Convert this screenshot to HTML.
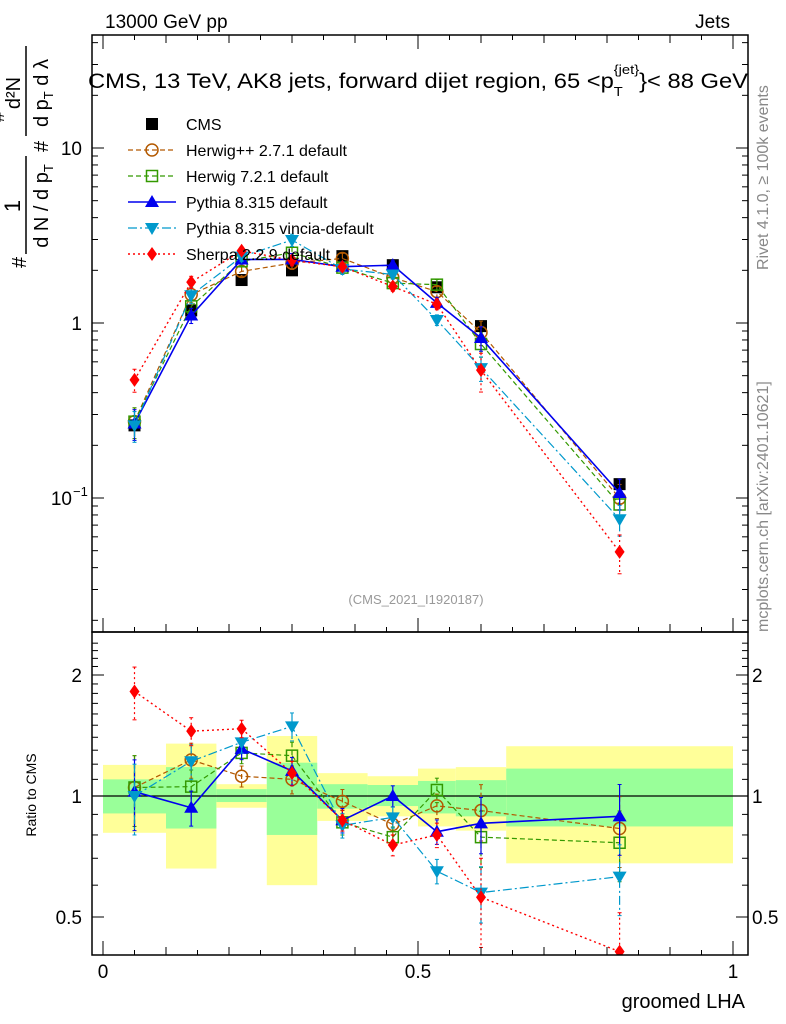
<!DOCTYPE html>
<html><head><meta charset="utf-8"><style>
html,body{margin:0;padding:0;background:#fff}
svg{display:block;font-family:"Liberation Sans",sans-serif}
</style></head><body>
<svg id="c" width="786" height="1024" viewBox="0 0 786 1024">
<defs><clipPath id="cr"><rect x="92" y="632" width="656" height="323"/></clipPath><clipPath id="cm"><rect x="92" y="35" width="656" height="597"/></clipPath></defs>
<g id="bands"></g>
<g id="marks"></g>
<g id="axes"></g>
<text x="105" y="28" font-size="19">13000 GeV pp</text>
<text x="730" y="28" font-size="19" text-anchor="end">Jets</text>
<text x="88" y="88" font-size="21" textLength="660" lengthAdjust="spacingAndGlyphs">CMS, 13 TeV, AK8 jets, forward dijet region, 65 &lt;p<tspan font-size="13" dy="8">T</tspan><tspan font-size="13" dy="-22" dx="-8">{jet}</tspan><tspan dy="14">}&lt; 88 GeV</tspan></text>
<text x="416" y="604" font-size="13" fill="#999" text-anchor="middle">(CMS_2021_I1920187)</text>
<text transform="translate(768,270) rotate(-90)" font-size="16" fill="#888">Rivet 4.1.0, ≥ 100k events</text>
<text transform="translate(768,632) rotate(-90)" font-size="16" fill="#888">mcplots.cern.ch [arXiv:2401.10621]</text>
<g transform="translate(26,268) rotate(-90)">
<text x="0" y="0" font-size="20">#</text>
<text x="62" y="-6" font-size="22" text-anchor="middle">1</text>
<line x1="14" y1="0" x2="112" y2="0" stroke="#000" stroke-width="1.5"/>
<text x="62" y="22" font-size="20" text-anchor="middle">d N / d p<tspan font-size="13" dy="5">T</tspan></text>
<text x="116" y="22" font-size="20">#</text>
<text x="175" y="-6" font-size="20" text-anchor="middle">d²N</text>
<line x1="132" y1="0" x2="222" y2="0" stroke="#000" stroke-width="1.5"/>
<text x="175" y="22" font-size="20" text-anchor="middle">d p<tspan font-size="13" dy="5">T</tspan><tspan dy="-5">  d λ</tspan></text>
<text x="146" y="-22" font-size="18">#</text>
</g>
<text transform="translate(36,795) rotate(-90)" font-size="14" text-anchor="middle">Ratio to CMS</text>
<text x="745" y="1008" font-size="20" text-anchor="end">groomed LHA</text>
<g id="legend"></g>
</svg>
<script>
const binEdges=[0,0.1,0.18,0.26,0.34,0.42,0.5,0.56,0.64,1];
const binCenters=[0.05,0.14,0.22,0.30,0.38,0.46,0.53,0.60,0.82];
const cmsValues=[0.26,1.18,1.76,2.0,2.41,2.14,1.6,0.96,0.12];
const cmsRelErr=[0.06,0.05,0.03,0.04,0.03,0.03,0.04,0.04,0.05];
const bandYellowHi=[1.195,1.35,1.07,1.41,1.14,1.12,1.17,1.18,1.33];
const bandYellowLo=[0.81,0.66,0.935,0.60,0.867,0.89,0.84,0.82,0.68];
const bandGreenHi=[1.10,1.18,1.04,1.21,1.07,1.065,1.09,1.095,1.17];
const bandGreenLo=[0.905,0.83,0.966,0.80,0.93,0.944,0.905,0.89,0.84];
const ratioHerwigPP=[1.05,1.23,1.12,1.10,0.97,0.85,0.945,0.92,0.83];
const ratioHerwig7=[1.05,1.055,1.28,1.26,0.86,0.79,1.035,0.79,0.765];
const ratioPythia=[1.025,0.935,1.31,1.155,0.87,1.0,0.815,0.855,0.89];
const ratioVincia=[1.0,1.22,1.36,1.49,0.845,0.885,0.65,0.575,0.63];
const ratioSherpa=[1.82,1.45,1.47,1.14,0.87,0.755,0.80,0.56,0.41];
const mcRelErr=[0.2,0.1,0.06,0.08,0.07,0.06,0.07,0.16,0.2];
const sherpaRelErr=[0.15,0.08,0.05,0.07,0.06,0.06,0.07,0.25,0.25];

const NS='http://www.w3.org/2000/svg';
const L=92,R=748,T=35,MB=632,B=955;
const X=v=>103+v*630;
const Y=v=>323-175*Math.log10(v);
const YR=v=>796-121*Math.log2(v);
function mk(tag,at,parent){const e=document.createElementNS(NS,tag);for(const k in at)e.setAttribute(k,at[k]);parent.appendChild(e);return e;}
const bands=document.getElementById('bands'),marks=document.getElementById('marks'),axes=document.getElementById('axes'),leg=document.getElementById('legend');

for(let i=0;i<cmsValues.length;i++){
  const x1=Math.max(X(binEdges[i]),L+1),x2=Math.min(X(binEdges[i+1]),R-1);
  let r=mk('rect',{x:x1,y:YR(bandYellowHi[i]),width:x2-x1,height:YR(bandYellowLo[i])-YR(bandYellowHi[i]),fill:'#ffff99'},bands);
  
  
  r=mk('rect',{x:x1,y:YR(bandGreenHi[i]),width:x2-x1,height:YR(bandGreenLo[i])-YR(bandGreenHi[i]),fill:'#99ff99'},bands);
  
  
}
let one=mk('line',{x1:L,x2:R,y1:YR(1),y2:YR(1),stroke:'#000','stroke-width':1.2},bands);



function marker(type,x,y,col,g){
  let e;
  if(type==='sq') e=mk('rect',{x:x-6,y:y-6,width:12,height:12,fill:'#000'},g);
  else if(type==='circ') e=mk('circle',{cx:x,cy:y,r:6,fill:'none',stroke:col,'stroke-width':1.5},g);
  else if(type==='osq') e=mk('rect',{x:x-5.5,y:y-5.5,width:11,height:11,fill:'none',stroke:col,'stroke-width':1.5},g);
  else if(type==='tri') e=mk('polygon',{points:`${x},${y-7} ${x-7},${y+5} ${x+7},${y+5}`,fill:col},g);
  else if(type==='itri') e=mk('polygon',{points:`${x},${y+7} ${x-7},${y-5} ${x+7},${y-5}`,fill:col},g);
  else if(type==='dia') e=mk('polygon',{points:`${x},${y-7} ${x-5},${y} ${x},${y+7} ${x+5},${y}`,fill:col},g);
  return e;
}
const series=[
 {name:'Herwig++ 2.7.1 default',r:ratioHerwigPP,col:'#b35900',dash:'5,3',m:'circ',w:1.2,err:mcRelErr},
 {name:'Herwig 7.2.1 default',r:ratioHerwig7,col:'#339900',dash:'5,3',m:'osq',w:1.2,err:mcRelErr},
 {name:'Pythia 8.315 default',r:ratioPythia,col:'#0000ee',dash:'',m:'tri',w:1.6,err:mcRelErr},
 {name:'Pythia 8.315 vincia-default',r:ratioVincia,col:'#0099cc',dash:'9,3,2,3',m:'itri',w:1.2,err:mcRelErr},
 {name:'Sherpa 2.2.9 default',r:ratioSherpa,col:'#ff0000',dash:'2,3',m:'dia',w:1.4,err:sherpaRelErr}
];
const gc=mk('g',{'clip-path':'url(#cm)'},marks);


cmsValues.forEach((v,i)=>{
  const x=X(binCenters[i]);
  mk('line',{x1:x,x2:x,y1:Y(v*(1+cmsRelErr[i])),y2:Y(v*(1-cmsRelErr[i])),stroke:'#000','stroke-width':1.2},gc);
  const p=marker('sq',x,Y(v),'#000',gc);
  
  
});
series.forEach((s,si)=>{
  const g=mk('g',{},marks);
  
  
  const mainPts=s.r.map((r,i)=>[X(binCenters[i]),Y(r*cmsValues[i])]);
  const ratPts=s.r.map((r,i)=>[X(binCenters[i]),YR(r)]);
  [mainPts,ratPts].forEach((pts,k)=>{
    const sub=mk('g',{'clip-path':k?'url(#cr)':'url(#cm)'},g);
    const pl=mk('polyline',{points:pts.map(p=>p.join(',')).join(' '),fill:'none',stroke:s.col,'stroke-width':s.w,'stroke-dasharray':s.dash},sub);
    
    
    pts.forEach((p,i)=>{
      const base=k?s.r[i]:s.r[i]*cmsValues[i];
      const f=k?YR:Y;
      const y1=f(base*(1+s.err[i])),y2=f(base*(1-s.err[i]));
      mk('line',{x1:p[0],x2:p[0],y1:y1,y2:y2,stroke:s.col,'stroke-width':1.2,'stroke-dasharray':s.dash},sub);
      mk('line',{x1:p[0]-2,x2:p[0]+2,y1:y1,y2:y1,stroke:s.col},sub);
      mk('line',{x1:p[0]-2,x2:p[0]+2,y1:y2,y2:y2,stroke:s.col},sub);
      const mm=marker(s.m,p[0],p[1],s.col,sub);
      
      
    });
  });
});
const legY=[124,150,176,202,228,254];
marker('sq',152,legY[0],'#000',leg);
let t0=mk('text',{x:186,y:legY[0]+6,'font-size':16},leg);t0.textContent='CMS';
series.forEach((s,i)=>{
  const y=legY[i+1];
  mk('line',{x1:128,x2:176,y1:y,y2:y,stroke:s.col,'stroke-width':s.w,'stroke-dasharray':s.dash},leg);
  marker(s.m,152,y,s.col,leg);
  const t=mk('text',{x:186,y:y+6,'font-size':16},leg);
  
  
  t.textContent=s.name;
});
mk('rect',{x:L,y:T,width:R-L,height:MB-T,fill:'none',stroke:'#000','stroke-width':1.5},axes);
mk('rect',{x:L,y:MB,width:R-L,height:B-MB,fill:'none',stroke:'#000','stroke-width':1.5},axes);
for(let d=-2;d<=1;d++)for(let m=1;m<=9;m++){
  const v=m*Math.pow(10,d),y=Y(v);if(y<T||y>MB)continue;
  const len=m===1?12:6;
  mk('line',{x1:L,x2:L+len,y1:y,y2:y,stroke:'#000'},axes);
  mk('line',{x1:R,x2:R-len,y1:y,y2:y,stroke:'#000'},axes);
}
const tl=(x,y,s,anc)=>{const t=mk('text',{x:x,y:y,'font-size':19,'text-anchor':anc},axes);t.textContent=s;return t;};
tl(82,Y(10)+7,'10','end');tl(82,Y(1)+7,'1','end');
tl(72,Y(0.1)+7,'10','end');
const sup=mk('text',{x:73,y:Y(0.1)-2,'font-size':13},axes);sup.textContent='−1';
for(let v=0.4;v<=2.5;v+=0.1){
  const y=YR(v);if(y<MB||y>B)continue;
  const major=[0.5,1,2].some(q=>Math.abs(q-v)<1e-6);
  const len=major?12:6;
  mk('line',{x1:L,x2:L+len,y1:y,y2:y,stroke:'#000'},axes);
  mk('line',{x1:R,x2:R-len,y1:y,y2:y,stroke:'#000'},axes);
}
[[2,'2'],[1,'1'],[0.5,'0.5']].forEach(([v,s])=>{tl(82,YR(v)+7,s,'end');tl(752,YR(v)+7,s,'start');});
for(let k=0;k<=20;k++){
  const v=k*0.05,x=X(v);if(x>R)continue;
  const len=k%10===0?14:(k%2===0?8:5);
  mk('line',{x1:x,x2:x,y1:B,y2:B-len,stroke:'#000'},axes);
  mk('line',{x1:x,x2:x,y1:MB,y2:MB-len,stroke:'#000'},axes);
  mk('line',{x1:x,x2:x,y1:T,y2:T+len,stroke:'#000'},axes);
}
[[0,'0'],[0.5,'0.5'],[1,'1']].forEach(([v,s])=>tl(X(v),978,s,'middle'));
</script>
</body></html>
